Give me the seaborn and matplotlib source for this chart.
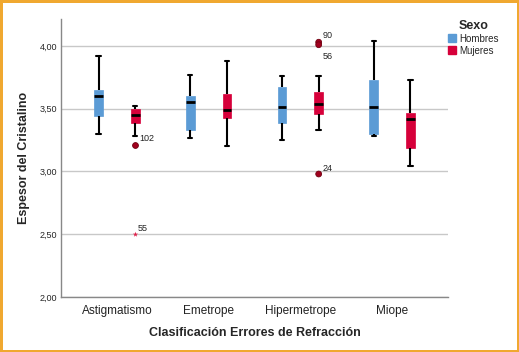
import matplotlib
matplotlib.use("Agg")
import matplotlib.pyplot as plt
import matplotlib.ticker as mticker
from matplotlib.patches import Patch
import seaborn as sns
import pandas as pd

categories = ["Astigmatismo", "Emetrope", "Hipermetrope", "Miope"]
sexes = ["Hombres", "Mujeres"]

# five-number summaries (min whisker, Q1, median, Q3, max whisker)
hombres_stats = {
    "Astigmatismo": [3.30, 3.44, 3.60, 3.65, 3.92],
    "Emetrope":     [3.27, 3.33, 3.55, 3.60, 3.77],
    "Hipermetrope": [3.25, 3.39, 3.51, 3.67, 3.76],
    "Miope":        [3.28, 3.30, 3.51, 3.73, 4.04],
}
mujeres_stats = {
    "Astigmatismo": [3.28, 3.39, 3.45, 3.50, 3.52],
    "Emetrope":     [3.20, 3.43, 3.49, 3.62, 3.88],
    "Hipermetrope": [3.33, 3.46, 3.54, 3.63, 3.76],
    "Miope":        [3.04, 3.19, 3.42, 3.47, 3.73],
}

# outliers (circle) and extremes (asterisk)
out_cat = ["Astigmatismo", "Hipermetrope", "Hipermetrope", "Hipermetrope"]
out_sex = ["Mujeres", "Mujeres", "Mujeres", "Mujeres"]
out_val = [3.21, 4.03, 4.01, 2.98]
out_lab = ["102", "90", "56", "24"]
ext_cat = ["Astigmatismo"]
ext_sex = ["Mujeres"]
ext_val = [2.50]
ext_lab = ["55"]

yticks = [2.0, 2.5, 3.0, 3.5, 4.0]

rows = []
for sex, stats in (("Hombres", hombres_stats), ("Mujeres", mujeres_stats)):
    for cat in categories:
        for v in stats[cat]:
            rows.append({"cat": cat, "sex": sex, "val": v})
df = pd.DataFrame(rows)
df_out = pd.DataFrame({"cat": out_cat, "sex": out_sex, "val": out_val})
df_ext = pd.DataFrame({"cat": ext_cat, "sex": ext_sex, "val": ext_val})

palette = {"Hombres": "#5B9BD5", "Mujeres": "#D6003A"}

sns.set_style("white")
plt.rcParams["font.family"] = ["Liberation Sans", "DejaVu Sans"]

fig = plt.figure(figsize=(5.19, 3.52), dpi=100, facecolor="white",
                 edgecolor="#F0A830", linewidth=2.2)
ax = fig.add_axes([0.1175, 0.1563, 0.7457, 0.7897])

sns.boxplot(data=df, x="cat", y="val", hue="sex", order=categories,
            hue_order=sexes, palette=palette, whis=(0, 100), showfliers=False,
            width=0.8, gap=0.76, linecolor="black", linewidth=1.5,
            saturation=1, legend=False, ax=ax,
            medianprops=dict(color="black", linewidth=2),
            whiskerprops=dict(color="black", linewidth=1.5),
            capprops=dict(color="black", linewidth=1.5))
for p in ax.patches:
    p.set_edgecolor(p.get_facecolor())
    p.set_linewidth(0.5)

sns.stripplot(data=df_out, x="cat", y="val", hue="sex", order=categories,
              hue_order=sexes, dodge=True, jitter=False, legend=False,
              palette={"Hombres": "#A0001E", "Mujeres": "#A0001E"},
              marker="o", size=4.2, linewidth=0.6, edgecolor="#700010", ax=ax)
sns.stripplot(data=df_ext, x="cat", y="val", hue="sex", order=categories,
              hue_order=sexes, dodge=True, jitter=False, legend=False,
              palette={"Hombres": "#E0204A", "Mujeres": "#E0204A"},
              marker="*", size=4, ax=ax)

def xpos(cat, sex):
    return categories.index(cat) + (-0.2 if sex == "Hombres" else 0.2)

label_offsets = {"102": (3, 3), "90": (3, 3), "56": (3, -10), "24": (3, 2)}
for c, s, v, l in zip(out_cat, out_sex, out_val, out_lab):
    ax.annotate(l, (xpos(c, s), v), xytext=label_offsets[l],
                textcoords="offset points", fontsize=6.5, color="#222222")
for c, s, v, l in zip(ext_cat, ext_sex, ext_val, ext_lab):
    ax.annotate(l, (xpos(c, s), v), xytext=(2, 2),
                textcoords="offset points", fontsize=6.5, color="#222222")

ax.set_ylim(2.0, 4.215)
ax.set_xlim(-0.61, 3.61)
ax.set_yticks(yticks)
ax.yaxis.set_major_formatter(mticker.FuncFormatter(lambda v, p: f"{v:.2f}".replace(".", ",")))
ax.yaxis.grid(True, color="#C8C8C8", linewidth=1)
ax.set_axisbelow(True)
for s in ["top", "right"]:
    ax.spines[s].set_visible(False)
for s in ["left", "bottom"]:
    ax.spines[s].set_color("#888888")
    ax.spines[s].set_linewidth(1)
ax.tick_params(axis="y", labelsize=6.5, length=0, pad=3)
ax.tick_params(axis="x", labelsize=8.5, length=0, pad=6, colors="#222222")
ax.set_xlabel("Clasificación Errores de Refracción", fontsize=9, fontweight="bold", labelpad=7)
ax.set_ylabel("Espesor del Cristalino", fontsize=9, fontweight="bold", labelpad=7)

handles = [Patch(facecolor=palette[s], edgecolor=palette[s]) for s in sexes]
leg = fig.legend(handles, sexes, title="Sexo", loc="upper left",
                 bbox_to_anchor=(0.855, 0.955), frameon=False, fontsize=7,
                 handlelength=0.9, handleheight=0.9, handletextpad=0.3,
                 labelspacing=0.2, borderaxespad=0)
leg.get_title().set_fontweight("bold")
leg.get_title().set_fontsize(9)

fig.savefig("out.png", dpi=100, facecolor=fig.get_facecolor(),
            edgecolor=fig.get_edgecolor())
